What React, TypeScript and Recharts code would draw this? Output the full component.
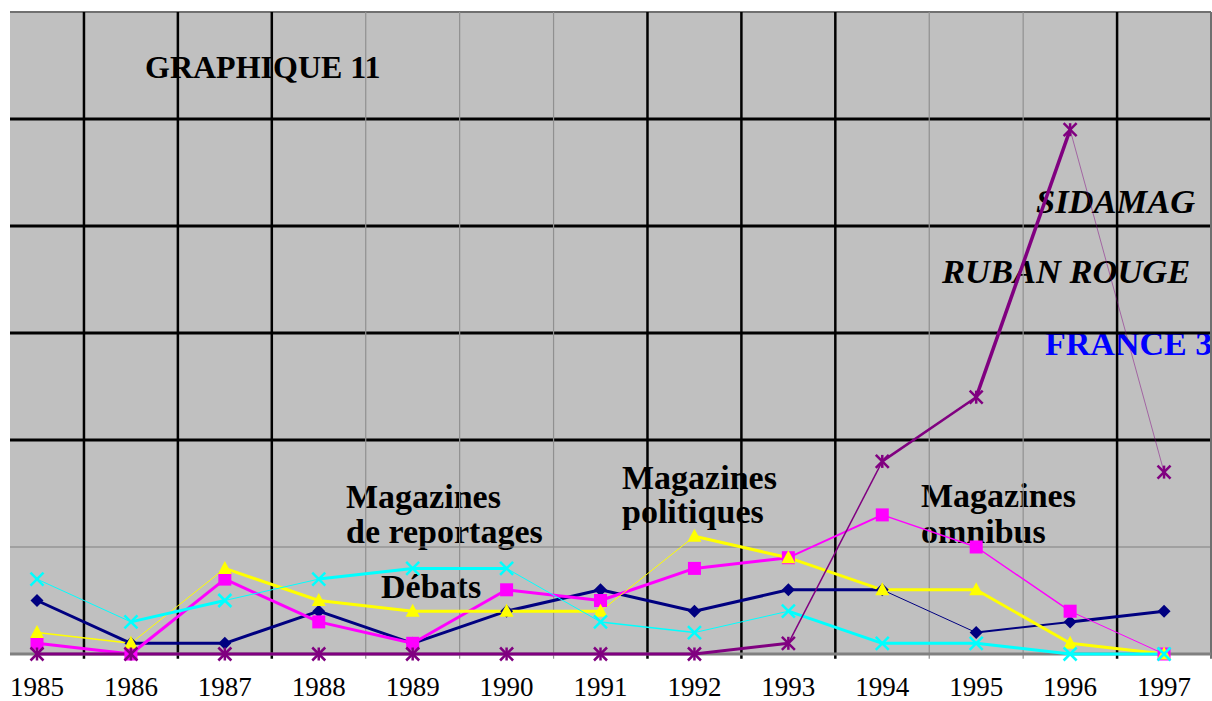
import React from 'react';
import { LineChart, Line, XAxis, YAxis, CartesianGrid, ReferenceLine } from 'recharts';

const years = ['1985', '1986', '1987', '1988', '1989', '1990', '1991', '1992', '1993', '1994', '1995', '1996', '1997'];
const navyValues = [5, 1, 1, 4, 1, 4, 6, 4, 6, 6, 2, 3, 4];
const pinkValues = [1, 0, 7, 3, 1, 6, 5, 8, 9, 13, 10, 4, 0];
const yellowValues = [2, 1, 8, 5, 4, 4, 4, 11, 9, 6, 6, 1, 0];
const cyanValues = [7, 3, 5, 7, 8, 8, 3, 2, 4, 1, 1, 0, 0];
const purpleValues = [0, 0, 0, 0, 0, 0, 0, 0, 1, 18, 24, 49, 17];

// segment stroke widths (style only)
const navyWidths = [3, 3, 3, 3, 3, 3, 3, 3, 3, 1, 2, 3];
const pinkWidths = [3, 3, 3, 3, 3, 3, 3, 3, 2, 1.5, 1.5, 1];
const yellowWidths = [1.5, 1, 3, 3, 3, 3, 1, 3, 3, 3, 3, 3];
const cyanWidths = [1, 3, 1, 3, 3, 1, 1.5, 1, 3, 3, 3, 3];
const purpleWidths = [3, 3, 3, 3, 3, 3, 3, 3, 1.5, 2.5, 3.5, 0.8];

type Shape = 'diamond' | 'square' | 'triangle' | 'cross' | 'star';
const seriesList: { key: string; values: number[]; widths: number[]; color: string; shape: Shape }[] = [
  { key: 'navy', values: navyValues, widths: navyWidths, color: '#000080', shape: 'diamond' },
  { key: 'pink', values: pinkValues, widths: pinkWidths, color: '#ff00ff', shape: 'square' },
  { key: 'yellow', values: yellowValues, widths: yellowWidths, color: '#ffff00', shape: 'triangle' },
  { key: 'cyan', values: cyanValues, widths: cyanWidths, color: '#00ffff', shape: 'cross' },
  { key: 'purple', values: purpleValues, widths: purpleWidths, color: '#800080', shape: 'star' },
];

const data = years.map((_, i) => {
  const row: Record<string, number | null> = { i };
  seriesList.forEach((s) => {
    row[s.key] = s.values[i];
    s.widths.forEach((_, j) => {
      row[`${s.key}_${j}`] = i === j || i === j + 1 ? s.values[i] : null;
    });
  });
  return row;
});

const makeDot = (shape: Shape, color: string) => (props: any) => {
  const { cx, cy, index } = props;
  if (cx == null || cy == null || Number.isNaN(cy)) return <g key={`d${index}`} />;
  const r = 6.5;
  if (shape === 'diamond')
    return <polygon key={`d${index}`} points={`${cx},${cy - r} ${cx + r},${cy} ${cx},${cy + r} ${cx - r},${cy}`} fill={color} />;
  if (shape === 'square')
    return <rect key={`d${index}`} x={cx - r} y={cy - r} width={2 * r} height={2 * r} fill={color} />;
  if (shape === 'triangle')
    return <polygon key={`d${index}`} points={`${cx},${cy - r - 1} ${cx + r + 0.5},${cy + r - 1} ${cx - r - 0.5},${cy + r - 1}`} fill={color} />;
  if (shape === 'cross')
    return (
      <g key={`d${index}`} stroke={color} strokeWidth={2.5}>
        <line x1={cx - r} y1={cy - r} x2={cx + r} y2={cy + r} />
        <line x1={cx - r} y1={cy + r} x2={cx + r} y2={cy - r} />
      </g>
    );
  return (
    <g key={`d${index}`} stroke={color} strokeWidth={2.5}>
      <line x1={cx - r} y1={cy - r} x2={cx + r} y2={cy + r} />
      <line x1={cx - r} y1={cy + r} x2={cx + r} y2={cy - r} />
      <line x1={cx} y1={cy - r} x2={cx} y2={cy + r} />
    </g>
  );
};

const blackV = [0.5, 1.5, 2.5, 6.5, 7.5, 8.5, 11.5];
const grayV = [3.5, 4.5, 5.5, 9.5, 10.5];
const blackH = [20, 30, 40, 50];

const serif = '"Liberation Serif", "Times New Roman", serif';

const YearTick = (props: any) => {
  const { x, payload } = props;
  return (
    <text x={x} y={696} textAnchor="middle" fontSize={27} fontFamily={serif} fill="#000">
      {years[payload.value]}
    </text>
  );
};

export default function App() {
  return (
    <div style={{ position: 'absolute', left: 0, top: 0, width: 1212, height: 701, background: '#fff' }}>
      <LineChart width={1212} height={701} data={data} margin={{ top: 12, right: 1, bottom: 0, left: 10 }}>
        <CartesianGrid fill="#c0c0c0" fillOpacity={1} horizontal={false} vertical={false} />
        <XAxis
          dataKey="i"
          type="number"
          domain={[-0.2875, 12.5]}
          ticks={years.map((_, i) => i)}
          height={47}
          tickLine={false}
          axisLine={false}
          tick={<YearTick />}
          interval={0}
        />
        <YAxis hide domain={[0, 60]} type="number" />
        <ReferenceLine y={10} stroke="#808080" strokeWidth={1} />
        {blackH.map((v) => (
          <ReferenceLine key={`h${v}`} y={v} stroke="#000" strokeWidth={3} />
        ))}
        <ReferenceLine y={60} stroke="#707070" strokeWidth={2} />
        {grayV.map((v) => (
          <ReferenceLine key={`gv${v}`} segment={[{ x: v, y: -0.45 }, { x: v, y: 60 }]} ifOverflow="visible" stroke="#909090" strokeWidth={1.2} />
        ))}
        {blackV.map((v) => (
          <ReferenceLine key={`bv${v}`} segment={[{ x: v, y: -0.45 }, { x: v, y: 60 }]} ifOverflow="visible" stroke="#000" strokeWidth={2.5} />
        ))}
        <ReferenceLine segment={[{ x: 12.5, y: -0.45 }, { x: 12.5, y: 60 }]} ifOverflow="visible" stroke="#707070" strokeWidth={2} />
        <ReferenceLine y={0} stroke="#808080" strokeWidth={3} ifOverflow="visible" />

        <g fontFamily={serif} fontWeight="bold" fontSize={34} fill="#000">
          <text x={145} y={78} fontSize={32}>GRAPHIQUE 11</text>
          <text x={346} y={508}>Magazines</text>
          <text x={346} y={543}>de reportages</text>
          <text x={381} y={598}>Débats</text>
          <text x={622} y={489}>Magazines</text>
          <text x={622} y={523}>politiques</text>
          <text x={921} y={507}>Magazines</text>
          <text x={921} y={543}>omnibus</text>
          <text x={1036} y={213} fontStyle="italic" fontSize={34.5}>SIDAMAG</text>
          <text x={942} y={283} fontStyle="italic" fontSize={34.5}>RUBAN ROUGE</text>
          <text x={1045} y={355} fill="#0000ff">FRANCE 3</text>
        </g>

        {seriesList.flatMap((s) =>
          s.widths.map((w, j) => (
            <Line
              key={`${s.key}_${j}`}
              dataKey={`${s.key}_${j}`}
              stroke={s.color}
              strokeOpacity={w < 1 ? 0.6 : 1}
              strokeWidth={w}
              dot={false}
              activeDot={false}
              isAnimationActive={false}
              connectNulls={false}
              type="linear"
            />
          ))
        )}
        {seriesList.map((s) => (
          <Line
            key={`${s.key}_m`}
            dataKey={s.key}
            stroke="none"
            strokeWidth={0}
            dot={makeDot(s.shape, s.color)}
            activeDot={false}
            isAnimationActive={false}
            type="linear"
          />
        ))}
      </LineChart>
    </div>
  );
}
